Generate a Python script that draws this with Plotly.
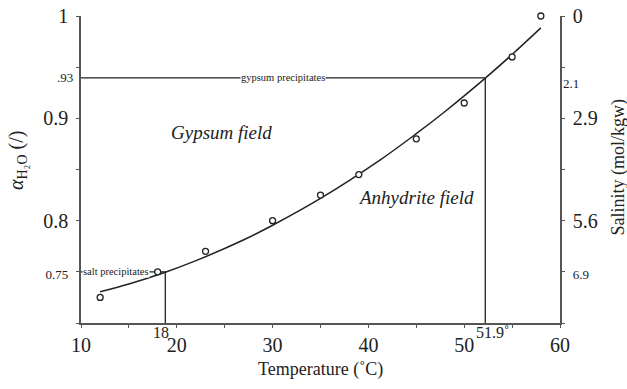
import plotly.graph_objects as go

# measured points (temperature °C, water activity)
pt_temp = [12, 18, 23, 30, 35, 39, 45, 50, 55, 58]
pt_aw = [0.725, 0.75, 0.77, 0.80, 0.825, 0.845, 0.88, 0.915, 0.96, 1.0]

# fitted curve
curve_temp = [12, 15, 18.8, 22, 27, 30, 35, 41.2, 45, 48, 52.2, 55, 58]
curve_aw = [0.7305, 0.7381, 0.7496, 0.7609, 0.7814, 0.7955, 0.8217, 0.8592,
            0.8850, 0.9067, 0.9393, 0.9624, 0.9884]

# precipitation thresholds
salt_t, salt_aw = 18.8, 0.75
gyp_t, gyp_aw = 52.2, 0.9395

x_ticks = [10, 20, 30, 40, 50, 60]
x_labels = ["10", "20", "30", "40", "50", "60"]
y_ticks = [0.75, 0.8, 0.9, 1.0]
y_labels = ['<span style="font-size:13px">0.75</span>', "0.8", "0.9", "1"]
y2_labels = ['<span style="font-size:13px">6.9</span>', "5.6", "2.9", "0"]

SERIF = "Liberation Serif"
LC = "#222222"

fig = go.Figure()
fig.add_trace(go.Scatter(x=curve_temp, y=curve_aw, mode="lines", line=dict(color=LC, width=1.5, shape="spline"),
                         showlegend=False, hoverinfo="skip"))
fig.add_trace(go.Scatter(x=[10, gyp_t, gyp_t], y=[gyp_aw, gyp_aw, 0.7], mode="lines",
                         line=dict(color=LC, width=1.3), showlegend=False))
fig.add_trace(go.Scatter(x=[10, salt_t, salt_t], y=[salt_aw, salt_aw, 0.7], mode="lines",
                         line=dict(color=LC, width=1.3), showlegend=False))
fig.add_trace(go.Scatter(x=pt_temp, y=pt_aw, mode="markers",
                         marker=dict(symbol="circle", size=6, color="white", line=dict(color=LC, width=1.3)),
                         showlegend=False, cliponaxis=False))
# dummy for secondary axis
fig.add_trace(go.Scatter(x=[10], y=[0.7], yaxis="y2", mode="markers", marker=dict(opacity=0), showlegend=False, hoverinfo="skip"))

axis_common = dict(showline=True, linecolor="#555555", linewidth=1.5, ticks="outside", ticklen=3,
                   tickcolor="#555555", showgrid=False, zeroline=False, automargin=False,
                   tickfont=dict(family=SERIF, size=20, color="#222"))

fig.update_layout(
    width=627, height=389,
    margin=dict(l=81, r=67, t=16, b=66, autoexpand=False),
    paper_bgcolor="white", plot_bgcolor="white",
    font=dict(family=SERIF, color="#222"),
    xaxis=dict(range=[10, 60], tickmode="array", tickvals=x_ticks, ticktext=x_labels,
               minor=dict(dtick=5, tick0=0, ticks="outside", ticklen=3, tickcolor="#555555", showgrid=False),
               **axis_common),
    yaxis=dict(range=[0.7, 1.0], tickmode="array", tickvals=y_ticks, ticktext=y_labels, ticklabelstandoff=4,
               minor=dict(dtick=0.05, tick0=0, ticks="outside", ticklen=3, tickcolor="#555555", showgrid=False),
               **axis_common),
    yaxis2=dict(range=[0.7, 1.0], overlaying="y", side="right", tickmode="array", tickvals=y_ticks,
                ticktext=y2_labels, ticklabelstandoff=4,
                minor=dict(dtick=0.05, tick0=0, ticks="outside", ticklen=3, tickcolor="#555555", showgrid=False),
                **axis_common),
)

ann = [
    dict(x=24.7, y=0.8857, text="<i>Gypsum field</i>", font=dict(size=19)),
    dict(x=44.97, y=0.8231, text="<i>Anhydrite field</i>", font=dict(size=19)),
    dict(x=31.09, y=gyp_aw, text="gypsum precipitates", font=dict(size=10.5), bgcolor="white", borderpad=0),
    dict(x=13.7, y=salt_aw, text="salt precipitates", font=dict(size=10.5), bgcolor="white", borderpad=0),
    dict(x=18.3, y=0.7, yshift=-9, text="18", font=dict(size=16)),
    dict(x=53.0, y=0.7, yshift=-9, text="51.9˚", font=dict(size=16)),
]
for a in ann:
    fig.add_annotation(xref="x", yref="y", showarrow=False, font_family=SERIF, **a)

# off-axis tick labels
fig.add_annotation(xref="paper", yref="y", x=0, xshift=-6, y=gyp_aw, text=".93", showarrow=False,
                   xanchor="right", font=dict(family=SERIF, size=13))
fig.add_annotation(xref="paper", yref="y", x=1, xshift=1, y=gyp_aw - 0.005, text="2.1", showarrow=False,
                   xanchor="left", font=dict(family=SERIF, size=13))

# axis titles
fig.add_annotation(xref="paper", yref="paper", x=0.5, y=-0.153, text="Temperature (˚C)", showarrow=False,
                   yanchor="middle", font=dict(family=SERIF, size=18))
fig.add_annotation(xref="paper", yref="paper", x=-0.134, y=0.53, text="<i>α</i><sub>H₂O</sub> (/)", showarrow=False,
                   textangle=-90, xanchor="center", yanchor="middle", font=dict(family=SERIF, size=20))
fig.add_annotation(xref="paper", yref="paper", x=1.121, y=0.51, text="Salinity (mol/kgw)", showarrow=False,
                   textangle=-90, xanchor="center", yanchor="middle", font=dict(family=SERIF, size=18))

fig.write_html("out.html")
